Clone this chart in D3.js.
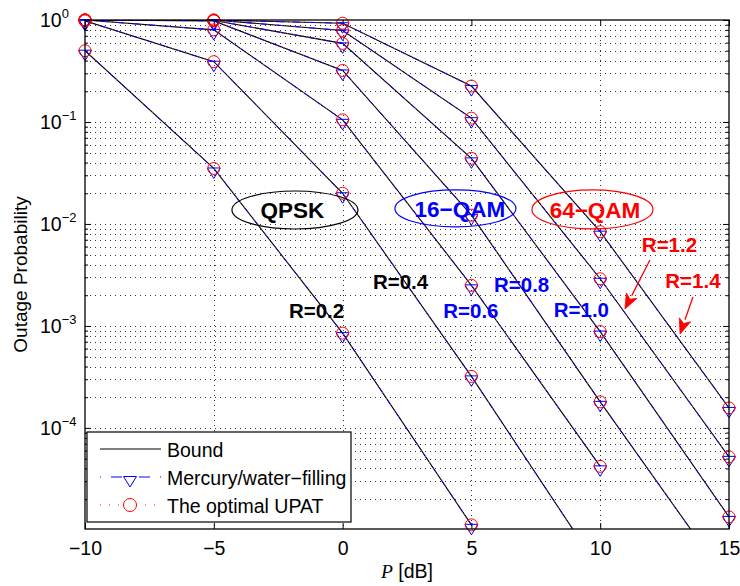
<!DOCTYPE html>
<html>
<head>
<meta charset="utf-8" />
<title>Outage Probability vs P</title>
<script src="https://d3js.org/d3.v7.min.js"></script>
<style>
  body { margin: 0; background: #fff; }
  svg { display: block; font-family: "Liberation Sans", Arial, sans-serif; }
</style>
</head>
<body>
<svg width="740" height="586"></svg>
<script>
// x positions (dB) where every curve is sampled / marked
const snrDb = [-10, -5, 0, 5, 10, 15];

// outage probability per rate (bound, mercury and UPAT coincide at these points)
const outR02 = [0.50, 0.035, 8.5e-4, 1.12e-5, null, null];
const outR04 = [0.98, 0.39, 0.020, 3.2e-4, 4.0e-6, null];
const outR06 = [1.0, 0.80, 0.105, 2.5e-3, 4.2e-5, null];
const outR08 = [1.0, 0.98, 0.32, 0.0122, 1.8e-4, 3.0e-6];
const outR10 = [1.0, 0.99, 0.59, 0.044, 8.8e-4, 1.34e-5];
const outR12 = [1.0, 1.0, 0.79, 0.109, 2.9e-3, 5.2e-5];
const outR14 = [1.0, 1.0, 0.93, 0.225, 8.4e-3, 1.57e-4];
const allCurves = [outR02, outR04, outR06, outR08, outR10, outR12, outR14];

const xTicks = [-10, -5, 0, 5, 10, 15];
const yTickExps = [0, -1, -2, -3, -4];
const legendLabels = ["Bound", "Mercury/water\u2212filling", "The optimal UPAT"];

const svg = d3.select("svg");
const width = +svg.attr("width");
const height = +svg.attr("height");
const margin = { top: 20, right: 11, bottom: 57, left: 85 };
const innerW = width - margin.left - margin.right;
const innerH = height - margin.top - margin.bottom;
const fs = 19.5;

const g = svg.append("g").attr("transform", `translate(${margin.left},${margin.top})`);

const x = d3.scaleLinear().domain([-10, 15]).range([0, innerW]);
const y = d3.scaleLog().domain([1.02e-5, 1]).range([innerH, 0]);

// minor log ticks
const minorY = [];
for (let e = -5; e < 0; e++) {
  for (let k = 2; k <= 9; k++) {
    const v = k * Math.pow(10, e);
    if (v > y.domain()[0] && v < 1) minorY.push(v);
  }
}
const majorY = yTickExps.map(e => Math.pow(10, e));

// grid
const grid = g.append("g")
  .attr("stroke", "#333")
  .attr("stroke-width", 1)
  .attr("stroke-dasharray", "1,4");
grid.selectAll(".gx").data(xTicks.slice(1, -1)).enter().append("line")
  .attr("x1", d => Math.round(x(d)) + 0.5).attr("x2", d => Math.round(x(d)) + 0.5)
  .attr("y1", 0).attr("y2", innerH);
grid.selectAll(".gy").data(majorY.slice(1).concat(minorY)).enter().append("line")
  .attr("x1", 0).attr("x2", innerW)
  .attr("y1", d => Math.round(y(d)) + 0.5).attr("y2", d => Math.round(y(d)) + 0.5);

// axes with inward ticks
const axisStyle = sel => {
  sel.select(".domain").remove();
  sel.selectAll("line").attr("stroke", "#000");
};
g.append("g").attr("transform", `translate(0,${innerH})`)
  .call(d3.axisBottom(x).tickValues(xTicks).tickSize(-6).tickPadding(12))
  .call(axisStyle)
  .selectAll("text").attr("font-size", fs).attr("fill", "#000")
  .attr("font-family", "Liberation Sans, Arial, sans-serif");
g.append("g")
  .call(d3.axisTop(x).tickValues(xTicks).tickSize(-6).tickFormat(""))
  .call(axisStyle);
g.append("g")
  .call(d3.axisLeft(y).tickValues(majorY).tickSize(-6).tickFormat(""))
  .call(axisStyle);
g.append("g")
  .call(d3.axisLeft(y).tickValues(minorY).tickSize(-3).tickFormat(""))
  .call(axisStyle);
g.append("g").attr("transform", `translate(${innerW},0)`)
  .call(d3.axisRight(y).tickValues(majorY).tickSize(-6).tickFormat(""))
  .call(axisStyle);
g.append("g").attr("transform", `translate(${innerW},0)`)
  .call(d3.axisRight(y).tickValues(minorY).tickSize(-3).tickFormat(""))
  .call(axisStyle);

// y tick labels 10^e
const yLab = g.append("g").attr("font-size", fs).attr("fill", "#000");
yTickExps.forEach(e => {
  const t = yLab.append("text")
    .attr("x", -45).attr("y", y(Math.pow(10, e)) + 7);
  t.append("tspan").text("10");
  t.append("tspan").attr("dy", -9).attr("font-size", 13)
    .text(e === 0 ? "0" : "\u2212" + Math.abs(e));
});

// curves
g.append("clipPath").attr("id", "plotClip")
  .append("rect").attr("width", innerW).attr("height", innerH);

const line = d3.line()
  .defined(d => d[1] != null)
  .x(d => x(d[0]))
  .y(d => y(d[1]));

const pts = vals => snrDb.map((s, i) => [s, vals[i]]);
const lines = g.append("g").attr("clip-path", "url(#plotClip)").attr("fill", "none");

lines.selectAll(".bound").data(allCurves).enter().append("path")
  .attr("d", d => line(pts(d)))
  .attr("stroke", "#000").attr("stroke-width", 1.1);
lines.selectAll(".merc").data(allCurves).enter().append("path")
  .attr("d", d => line(pts(d)))
  .attr("stroke", "#0000ff").attr("stroke-width", 1)
  .attr("stroke-dasharray", "7,4,1,4");
lines.selectAll(".upat").data(allCurves).enter().append("path")
  .attr("d", d => line(pts(d)))
  .attr("stroke", "#ff2020").attr("stroke-width", 1)
  .attr("stroke-dasharray", "1,6");

// markers
const markPts = allCurves.flatMap(c => pts(c)).filter(d => d[1] != null && d[1] >= y.domain()[0]);
const triPath = (cx, cy) => `M${cx - 6.5},${cy - 0.5}L${cx + 6.5},${cy - 0.5}L${cx},${cy + 10}Z`;
g.append("g").selectAll("path").data(markPts).enter().append("path")
  .attr("d", d => triPath(x(d[0]), y(d[1])))
  .attr("fill", "none").attr("stroke", "#0000ff").attr("stroke-width", 1);
g.append("g").selectAll("circle").data(markPts).enter().append("circle")
  .attr("cx", d => x(d[0])).attr("cy", d => y(d[1])).attr("r", 6)
  .attr("fill", "none").attr("stroke", "#ff0000").attr("stroke-width", 1);

// box
g.append("rect").attr("width", innerW).attr("height", innerH)
  .attr("fill", "none").attr("stroke", "#000").attr("stroke-width", 1.3);

// annotations (positions in dB / log10 probability)
const ly = v => y(Math.pow(10, v));
const ellipses = [
  { cx: -1.85, cy: -1.863, rx: 63, ry: 19, color: "#000", text: "QPSK", tx: -1.95, ty: -1.942 },
  { cx: 4.38, cy: -1.848, rx: 60.5, ry: 18.5, color: "#0000ff", text: "16\u2212QAM", tx: 4.55, ty: -1.932 },
  { cx: 9.70, cy: -1.858, rx: 60.5, ry: 19.5, color: "#ff0000", text: "64\u2212QAM", tx: 9.80, ty: -1.942 }
];
const ann = g.append("g");
ellipses.forEach(a => {
  ann.append("ellipse").attr("cx", x(a.cx)).attr("cy", ly(a.cy))
    .attr("rx", a.rx).attr("ry", a.ry)
    .attr("fill", "none").attr("stroke", a.color).attr("stroke-width", 1.2);
  ann.append("text").attr("x", x(a.tx)).attr("y", ly(a.ty))
    .attr("text-anchor", "middle").attr("font-weight", "bold").attr("font-size", 22.5)
    .attr("fill", a.color).text(a.text);
});

const rateLabels = [
  { text: "R=0.2", x: -1.01, y: -2.922, color: "#000" },
  { text: "R=0.4", x: 2.25, y: -2.638, color: "#000" },
  { text: "R=0.6", x: 4.98, y: -2.922, color: "#0000ff" },
  { text: "R=0.8", x: 6.95, y: -2.667, color: "#0000ff" },
  { text: "R=1.0", x: 9.27, y: -2.912, color: "#0000ff" },
  { text: "R=1.2", x: 12.69, y: -2.275, color: "#ff0000" },
  { text: "R=1.4", x: 13.60, y: -2.628, color: "#ff0000" }
];
ann.selectAll(".rl").data(rateLabels).enter().append("text")
  .attr("x", d => x(d.x)).attr("y", d => ly(d.y))
  .attr("text-anchor", "middle").attr("font-weight", "bold").attr("font-size", 20.5)
  .attr("fill", d => d.color).text(d => d.text);

const arrows = [
  { x1: 11.93, y1: -2.353, x2: 10.96, y2: -2.834 },
  { x1: 13.60, y1: -2.716, x2: 13.10, y2: -3.079 }
];
arrows.forEach(a => {
  const X1 = x(a.x1), Y1 = ly(a.y1), X2 = x(a.x2), Y2 = ly(a.y2);
  const ang = Math.atan2(Y2 - Y1, X2 - X1);
  const L = 15, W = 6;
  const bx = X2 - L * Math.cos(ang), by = Y2 - L * Math.sin(ang);
  ann.append("line").attr("x1", X1).attr("y1", Y1).attr("x2", bx).attr("y2", by)
    .attr("stroke", "#ff0000").attr("stroke-width", 1.3);
  const px = -Math.sin(ang) * W, py = Math.cos(ang) * W;
  const nx = X2 - 11 * Math.cos(ang), ny = Y2 - 11 * Math.sin(ang);
  ann.append("path")
    .attr("d", `M${X2},${Y2}L${bx + px},${by + py}L${nx},${ny}L${bx - px},${by - py}Z`)
    .attr("fill", "#ff0000").attr("stroke", "#ff0000").attr("stroke-width", 0.8);
});

// legend
const leg = svg.append("g").attr("transform", "translate(87,432)");
leg.append("rect").attr("width", 264).attr("height", 90)
  .attr("fill", "#fff").attr("stroke", "#000").attr("stroke-width", 1.2);
const rowY = [17, 45, 73];
leg.append("line").attr("x1", 13).attr("x2", 74).attr("y1", rowY[0]).attr("y2", rowY[0])
  .attr("stroke", "#000").attr("stroke-width", 1);
leg.append("line").attr("x1", 13).attr("x2", 74).attr("y1", rowY[1]).attr("y2", rowY[1])
  .attr("stroke", "#0000ff").attr("stroke-width", 1).attr("stroke-dasharray", "1,10,11,17,11,10,1");
leg.append("path").attr("d", triPath(43, rowY[1]))
  .attr("fill", "none").attr("stroke", "#0000ff").attr("stroke-width", 1);
leg.append("line").attr("x1", 13).attr("x2", 74).attr("y1", rowY[2]).attr("y2", rowY[2])
  .attr("stroke", "#ff2020").attr("stroke-width", 1).attr("stroke-dasharray", "1,8");
leg.append("circle").attr("cx", 43).attr("cy", rowY[2]).attr("r", 6.5)
  .attr("fill", "#fff").attr("stroke", "#ff0000").attr("stroke-width", 1);
leg.selectAll(".lt").data(legendLabels).enter().append("text")
  .attr("x", 80).attr("y", (d, i) => rowY[i] + 7.5)
  .attr("font-size", fs).attr("fill", "#000").text(d => d);

// axis titles
const xt = svg.append("text")
  .attr("x", margin.left + innerW / 2).attr("y", 578)
  .attr("text-anchor", "middle").attr("font-size", fs).attr("fill", "#000");
xt.append("tspan").attr("font-family", "Liberation Serif, Times New Roman, serif")
  .attr("font-style", "italic").text("P");
xt.append("tspan").text(" [dB]");

svg.append("text")
  .attr("transform", `translate(27,${margin.top + innerH / 2}) rotate(-90)`)
  .attr("text-anchor", "middle").attr("font-size", 19).attr("fill", "#000")
  .text("Outage Probability");
</script>
</body>
</html>
